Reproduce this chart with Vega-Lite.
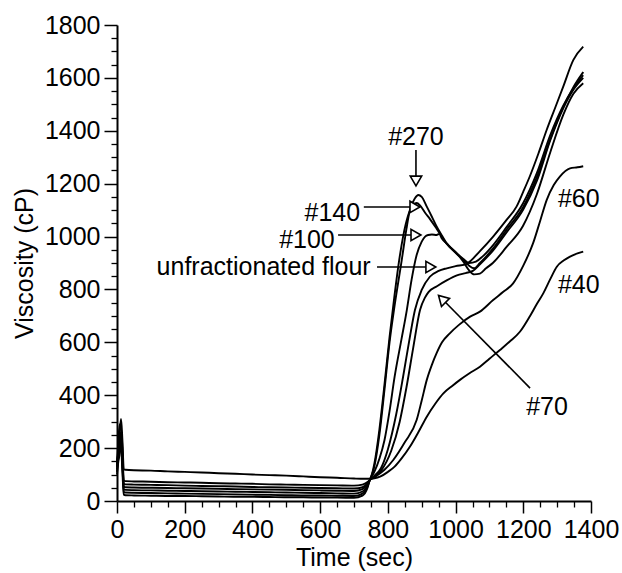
{
  "$schema": "https://vega.github.io/schema/vega-lite/v6.json",
  "width": 474,
  "height": 476,
  "autosize": {"type": "none"},
  "padding": {"left": 117, "top": 25, "right": 31, "bottom": 72},
  "background": "white",
  "config": {"view": {"stroke": null}, "font": "Liberation Sans"},
  "datasets": {
    "curves": [
      {"sample": "#40", "time": 0, "viscosity": 130}, {"sample": "#40", "time": 4, "viscosity": 200}, {"sample": "#40", "time": 8, "viscosity": 260}, {"sample": "#40", "time": 12, "viscosity": 310}, {"sample": "#40", "time": 16, "viscosity": 230}, {"sample": "#40", "time": 20, "viscosity": 120}, {"sample": "#40", "time": 25, "viscosity": 118},
      {"sample": "#40", "time": 50, "viscosity": 116}, {"sample": "#40", "time": 100, "viscosity": 115}, {"sample": "#40", "time": 150, "viscosity": 112}, {"sample": "#40", "time": 200, "viscosity": 110}, {"sample": "#40", "time": 250, "viscosity": 108}, {"sample": "#40", "time": 300, "viscosity": 105}, {"sample": "#40", "time": 350, "viscosity": 103}, {"sample": "#40", "time": 400, "viscosity": 100}, {"sample": "#40", "time": 450, "viscosity": 98}, {"sample": "#40", "time": 500, "viscosity": 96}, {"sample": "#40", "time": 550, "viscosity": 93}, {"sample": "#40", "time": 600, "viscosity": 90}, {"sample": "#40", "time": 650, "viscosity": 88}, {"sample": "#40", "time": 700, "viscosity": 85}, {"sample": "#40", "time": 730, "viscosity": 84}, {"sample": "#40", "time": 747, "viscosity": 84},
      {"sample": "#40", "time": 760, "viscosity": 86}, {"sample": "#40", "time": 777, "viscosity": 92}, {"sample": "#40", "time": 800, "viscosity": 110}, {"sample": "#40", "time": 820, "viscosity": 130}, {"sample": "#40", "time": 840, "viscosity": 160}, {"sample": "#40", "time": 865, "viscosity": 205}, {"sample": "#40", "time": 890, "viscosity": 260}, {"sample": "#40", "time": 915, "viscosity": 319}, {"sample": "#40", "time": 940, "viscosity": 368}, {"sample": "#40", "time": 964, "viscosity": 407}, {"sample": "#40", "time": 990, "viscosity": 435}, {"sample": "#40", "time": 1013, "viscosity": 458}, {"sample": "#40", "time": 1040, "viscosity": 482}, {"sample": "#40", "time": 1072, "viscosity": 508}, {"sample": "#40", "time": 1100, "viscosity": 538}, {"sample": "#40", "time": 1131, "viscosity": 571}, {"sample": "#40", "time": 1160, "viscosity": 603}, {"sample": "#40", "time": 1190, "viscosity": 640}, {"sample": "#40", "time": 1220, "viscosity": 700}, {"sample": "#40", "time": 1240, "viscosity": 745}, {"sample": "#40", "time": 1259, "viscosity": 785}, {"sample": "#40", "time": 1280, "viscosity": 840}, {"sample": "#40", "time": 1299, "viscosity": 886}, {"sample": "#40", "time": 1320, "viscosity": 910}, {"sample": "#40", "time": 1338, "viscosity": 924}, {"sample": "#40", "time": 1360, "viscosity": 936}, {"sample": "#40", "time": 1377, "viscosity": 943},

      {"sample": "#60", "time": 0, "viscosity": 130}, {"sample": "#60", "time": 4, "viscosity": 190}, {"sample": "#60", "time": 8, "viscosity": 240}, {"sample": "#60", "time": 12, "viscosity": 260}, {"sample": "#60", "time": 16, "viscosity": 180}, {"sample": "#60", "time": 20, "viscosity": 55}, {"sample": "#60", "time": 25, "viscosity": 52},
      {"sample": "#60", "time": 50, "viscosity": 51}, {"sample": "#60", "time": 100, "viscosity": 50}, {"sample": "#60", "time": 150, "viscosity": 49}, {"sample": "#60", "time": 200, "viscosity": 48}, {"sample": "#60", "time": 250, "viscosity": 47}, {"sample": "#60", "time": 300, "viscosity": 46}, {"sample": "#60", "time": 350, "viscosity": 45}, {"sample": "#60", "time": 400, "viscosity": 44}, {"sample": "#60", "time": 450, "viscosity": 43}, {"sample": "#60", "time": 500, "viscosity": 42}, {"sample": "#60", "time": 550, "viscosity": 41}, {"sample": "#60", "time": 600, "viscosity": 40}, {"sample": "#60", "time": 650, "viscosity": 39}, {"sample": "#60", "time": 700, "viscosity": 38}, {"sample": "#60", "time": 725, "viscosity": 45}, {"sample": "#60", "time": 740, "viscosity": 65}, {"sample": "#60", "time": 747, "viscosity": 80},
      {"sample": "#60", "time": 760, "viscosity": 90}, {"sample": "#60", "time": 790, "viscosity": 118}, {"sample": "#60", "time": 816, "viscosity": 155}, {"sample": "#60", "time": 850, "viscosity": 222}, {"sample": "#60", "time": 885, "viscosity": 306}, {"sample": "#60", "time": 900, "viscosity": 380}, {"sample": "#60", "time": 915, "viscosity": 458}, {"sample": "#60", "time": 930, "viscosity": 515}, {"sample": "#60", "time": 944, "viscosity": 559}, {"sample": "#60", "time": 960, "viscosity": 600}, {"sample": "#60", "time": 983, "viscosity": 634}, {"sample": "#60", "time": 1010, "viscosity": 666}, {"sample": "#60", "time": 1043, "viscosity": 697}, {"sample": "#60", "time": 1072, "viscosity": 716}, {"sample": "#60", "time": 1111, "viscosity": 760}, {"sample": "#60", "time": 1140, "viscosity": 790}, {"sample": "#60", "time": 1170, "viscosity": 823}, {"sample": "#60", "time": 1200, "viscosity": 890}, {"sample": "#60", "time": 1229, "viscosity": 975}, {"sample": "#60", "time": 1250, "viscosity": 1060}, {"sample": "#60", "time": 1269, "viscosity": 1138}, {"sample": "#60", "time": 1290, "viscosity": 1195}, {"sample": "#60", "time": 1308, "viscosity": 1227}, {"sample": "#60", "time": 1338, "viscosity": 1258}, {"sample": "#60", "time": 1360, "viscosity": 1262}, {"sample": "#60", "time": 1377, "viscosity": 1266},

      {"sample": "#70", "time": 0, "viscosity": 110}, {"sample": "#70", "time": 4, "viscosity": 160}, {"sample": "#70", "time": 8, "viscosity": 190}, {"sample": "#70", "time": 12, "viscosity": 200}, {"sample": "#70", "time": 16, "viscosity": 110}, {"sample": "#70", "time": 20, "viscosity": 24}, {"sample": "#70", "time": 25, "viscosity": 22},
      {"sample": "#70", "time": 50, "viscosity": 21}, {"sample": "#70", "time": 100, "viscosity": 20}, {"sample": "#70", "time": 150, "viscosity": 19}, {"sample": "#70", "time": 200, "viscosity": 19}, {"sample": "#70", "time": 250, "viscosity": 18}, {"sample": "#70", "time": 300, "viscosity": 17}, {"sample": "#70", "time": 350, "viscosity": 16}, {"sample": "#70", "time": 400, "viscosity": 16}, {"sample": "#70", "time": 450, "viscosity": 15}, {"sample": "#70", "time": 500, "viscosity": 14}, {"sample": "#70", "time": 550, "viscosity": 14}, {"sample": "#70", "time": 600, "viscosity": 13}, {"sample": "#70", "time": 650, "viscosity": 13}, {"sample": "#70", "time": 700, "viscosity": 12}, {"sample": "#70", "time": 725, "viscosity": 20}, {"sample": "#70", "time": 740, "viscosity": 50}, {"sample": "#70", "time": 747, "viscosity": 80},
      {"sample": "#70", "time": 760, "viscosity": 90}, {"sample": "#70", "time": 780, "viscosity": 115}, {"sample": "#70", "time": 810, "viscosity": 190}, {"sample": "#70", "time": 835, "viscosity": 300}, {"sample": "#70", "time": 855, "viscosity": 430}, {"sample": "#70", "time": 875, "viscosity": 580}, {"sample": "#70", "time": 895, "viscosity": 722}, {"sample": "#70", "time": 910, "viscosity": 770}, {"sample": "#70", "time": 920, "viscosity": 790}, {"sample": "#70", "time": 945, "viscosity": 812}, {"sample": "#70", "time": 975, "viscosity": 835}, {"sample": "#70", "time": 1004, "viscosity": 853}, {"sample": "#70", "time": 1030, "viscosity": 862}, {"sample": "#70", "time": 1051, "viscosity": 870}, {"sample": "#70", "time": 1072, "viscosity": 895}, {"sample": "#70", "time": 1111, "viscosity": 948}, {"sample": "#70", "time": 1150, "viscosity": 1015}, {"sample": "#70", "time": 1199, "viscosity": 1100}, {"sample": "#70", "time": 1240, "viscosity": 1210}, {"sample": "#70", "time": 1280, "viscosity": 1365}, {"sample": "#70", "time": 1318, "viscosity": 1485}, {"sample": "#70", "time": 1348, "viscosity": 1555}, {"sample": "#70", "time": 1377, "viscosity": 1600},

      {"sample": "#100", "time": 0, "viscosity": 120}, {"sample": "#100", "time": 4, "viscosity": 170}, {"sample": "#100", "time": 8, "viscosity": 200}, {"sample": "#100", "time": 12, "viscosity": 220}, {"sample": "#100", "time": 16, "viscosity": 130}, {"sample": "#100", "time": 20, "viscosity": 45}, {"sample": "#100", "time": 25, "viscosity": 42},
      {"sample": "#100", "time": 50, "viscosity": 41}, {"sample": "#100", "time": 100, "viscosity": 40}, {"sample": "#100", "time": 150, "viscosity": 39}, {"sample": "#100", "time": 200, "viscosity": 38}, {"sample": "#100", "time": 250, "viscosity": 37}, {"sample": "#100", "time": 300, "viscosity": 36}, {"sample": "#100", "time": 350, "viscosity": 35}, {"sample": "#100", "time": 400, "viscosity": 34}, {"sample": "#100", "time": 450, "viscosity": 33}, {"sample": "#100", "time": 500, "viscosity": 32}, {"sample": "#100", "time": 550, "viscosity": 31}, {"sample": "#100", "time": 600, "viscosity": 30}, {"sample": "#100", "time": 650, "viscosity": 29}, {"sample": "#100", "time": 700, "viscosity": 28}, {"sample": "#100", "time": 725, "viscosity": 36}, {"sample": "#100", "time": 740, "viscosity": 60}, {"sample": "#100", "time": 747, "viscosity": 80},
      {"sample": "#100", "time": 760, "viscosity": 110}, {"sample": "#100", "time": 775, "viscosity": 160}, {"sample": "#100", "time": 790, "viscosity": 230}, {"sample": "#100", "time": 805, "viscosity": 340}, {"sample": "#100", "time": 820, "viscosity": 470}, {"sample": "#100", "time": 840, "viscosity": 610}, {"sample": "#100", "time": 856, "viscosity": 722}, {"sample": "#100", "time": 870, "viscosity": 836}, {"sample": "#100", "time": 885, "viscosity": 930}, {"sample": "#100", "time": 900, "viscosity": 981}, {"sample": "#100", "time": 910, "viscosity": 1000}, {"sample": "#100", "time": 919, "viscosity": 1006}, {"sample": "#100", "time": 930, "viscosity": 1008}, {"sample": "#100", "time": 944, "viscosity": 1006}, {"sample": "#100", "time": 952, "viscosity": 1010}, {"sample": "#100", "time": 959, "viscosity": 994}, {"sample": "#100", "time": 974, "viscosity": 974}, {"sample": "#100", "time": 1003, "viscosity": 937}, {"sample": "#100", "time": 1023, "viscosity": 915}, {"sample": "#100", "time": 1040, "viscosity": 900}, {"sample": "#100", "time": 1060, "viscosity": 905}, {"sample": "#100", "time": 1080, "viscosity": 925}, {"sample": "#100", "time": 1111, "viscosity": 968}, {"sample": "#100", "time": 1150, "viscosity": 1035}, {"sample": "#100", "time": 1199, "viscosity": 1125}, {"sample": "#100", "time": 1240, "viscosity": 1240}, {"sample": "#100", "time": 1280, "viscosity": 1385}, {"sample": "#100", "time": 1318, "viscosity": 1495}, {"sample": "#100", "time": 1348, "viscosity": 1560}, {"sample": "#100", "time": 1377, "viscosity": 1610},

      {"sample": "#140", "time": 0, "viscosity": 140}, {"sample": "#140", "time": 4, "viscosity": 230}, {"sample": "#140", "time": 8, "viscosity": 290}, {"sample": "#140", "time": 12, "viscosity": 270}, {"sample": "#140", "time": 16, "viscosity": 200}, {"sample": "#140", "time": 20, "viscosity": 78}, {"sample": "#140", "time": 25, "viscosity": 75},
      {"sample": "#140", "time": 50, "viscosity": 74}, {"sample": "#140", "time": 100, "viscosity": 73}, {"sample": "#140", "time": 150, "viscosity": 71}, {"sample": "#140", "time": 200, "viscosity": 70}, {"sample": "#140", "time": 250, "viscosity": 69}, {"sample": "#140", "time": 300, "viscosity": 67}, {"sample": "#140", "time": 350, "viscosity": 66}, {"sample": "#140", "time": 400, "viscosity": 65}, {"sample": "#140", "time": 450, "viscosity": 63}, {"sample": "#140", "time": 500, "viscosity": 62}, {"sample": "#140", "time": 550, "viscosity": 61}, {"sample": "#140", "time": 600, "viscosity": 60}, {"sample": "#140", "time": 650, "viscosity": 59}, {"sample": "#140", "time": 700, "viscosity": 58}, {"sample": "#140", "time": 725, "viscosity": 62}, {"sample": "#140", "time": 740, "viscosity": 72}, {"sample": "#140", "time": 747, "viscosity": 80},
      {"sample": "#140", "time": 760, "viscosity": 140}, {"sample": "#140", "time": 775, "viscosity": 270}, {"sample": "#140", "time": 790, "viscosity": 440}, {"sample": "#140", "time": 805, "viscosity": 620}, {"sample": "#140", "time": 818, "viscosity": 760}, {"sample": "#140", "time": 830, "viscosity": 880}, {"sample": "#140", "time": 845, "viscosity": 1000}, {"sample": "#140", "time": 860, "viscosity": 1080}, {"sample": "#140", "time": 875, "viscosity": 1120}, {"sample": "#140", "time": 885, "viscosity": 1127}, {"sample": "#140", "time": 895, "viscosity": 1118}, {"sample": "#140", "time": 910, "viscosity": 1090}, {"sample": "#140", "time": 925, "viscosity": 1065}, {"sample": "#140", "time": 944, "viscosity": 1030}, {"sample": "#140", "time": 974, "viscosity": 972}, {"sample": "#140", "time": 1003, "viscosity": 935}, {"sample": "#140", "time": 1023, "viscosity": 912}, {"sample": "#140", "time": 1040, "viscosity": 890}, {"sample": "#140", "time": 1055, "viscosity": 880}, {"sample": "#140", "time": 1072, "viscosity": 900}, {"sample": "#140", "time": 1111, "viscosity": 955}, {"sample": "#140", "time": 1150, "viscosity": 1025}, {"sample": "#140", "time": 1199, "viscosity": 1110}, {"sample": "#140", "time": 1240, "viscosity": 1225}, {"sample": "#140", "time": 1280, "viscosity": 1370}, {"sample": "#140", "time": 1318, "viscosity": 1490}, {"sample": "#140", "time": 1348, "viscosity": 1565}, {"sample": "#140", "time": 1377, "viscosity": 1622},

      {"sample": "#270", "time": 0, "viscosity": 150}, {"sample": "#270", "time": 4, "viscosity": 180}, {"sample": "#270", "time": 8, "viscosity": 230}, {"sample": "#270", "time": 12, "viscosity": 250}, {"sample": "#270", "time": 16, "viscosity": 160}, {"sample": "#270", "time": 20, "viscosity": 34}, {"sample": "#270", "time": 25, "viscosity": 32},
      {"sample": "#270", "time": 50, "viscosity": 31}, {"sample": "#270", "time": 100, "viscosity": 30}, {"sample": "#270", "time": 150, "viscosity": 29}, {"sample": "#270", "time": 200, "viscosity": 28}, {"sample": "#270", "time": 250, "viscosity": 27}, {"sample": "#270", "time": 300, "viscosity": 26}, {"sample": "#270", "time": 350, "viscosity": 25}, {"sample": "#270", "time": 400, "viscosity": 24}, {"sample": "#270", "time": 450, "viscosity": 23}, {"sample": "#270", "time": 500, "viscosity": 22}, {"sample": "#270", "time": 550, "viscosity": 21}, {"sample": "#270", "time": 600, "viscosity": 21}, {"sample": "#270", "time": 650, "viscosity": 20}, {"sample": "#270", "time": 700, "viscosity": 19}, {"sample": "#270", "time": 725, "viscosity": 28}, {"sample": "#270", "time": 740, "viscosity": 55}, {"sample": "#270", "time": 747, "viscosity": 80},
      {"sample": "#270", "time": 760, "viscosity": 130}, {"sample": "#270", "time": 775, "viscosity": 250}, {"sample": "#270", "time": 790, "viscosity": 420}, {"sample": "#270", "time": 805, "viscosity": 600}, {"sample": "#270", "time": 818, "viscosity": 722}, {"sample": "#270", "time": 841, "viscosity": 911}, {"sample": "#270", "time": 855, "viscosity": 1030}, {"sample": "#270", "time": 865, "viscosity": 1100}, {"sample": "#270", "time": 880, "viscosity": 1145}, {"sample": "#270", "time": 890, "viscosity": 1157}, {"sample": "#270", "time": 900, "viscosity": 1150}, {"sample": "#270", "time": 915, "viscosity": 1113}, {"sample": "#270", "time": 930, "viscosity": 1075}, {"sample": "#270", "time": 944, "viscosity": 1038}, {"sample": "#270", "time": 960, "viscosity": 1003}, {"sample": "#270", "time": 974, "viscosity": 974}, {"sample": "#270", "time": 1003, "viscosity": 937}, {"sample": "#270", "time": 1023, "viscosity": 905}, {"sample": "#270", "time": 1040, "viscosity": 872}, {"sample": "#270", "time": 1055, "viscosity": 857}, {"sample": "#270", "time": 1072, "viscosity": 860}, {"sample": "#270", "time": 1090, "viscosity": 880}, {"sample": "#270", "time": 1110, "viscosity": 900}, {"sample": "#270", "time": 1150, "viscosity": 960}, {"sample": "#270", "time": 1199, "viscosity": 1040}, {"sample": "#270", "time": 1240, "viscosity": 1160}, {"sample": "#270", "time": 1280, "viscosity": 1320}, {"sample": "#270", "time": 1318, "viscosity": 1460}, {"sample": "#270", "time": 1348, "viscosity": 1540}, {"sample": "#270", "time": 1377, "viscosity": 1580},

      {"sample": "unfractionated flour", "time": 0, "viscosity": 100}, {"sample": "unfractionated flour", "time": 4, "viscosity": 150}, {"sample": "unfractionated flour", "time": 8, "viscosity": 180}, {"sample": "unfractionated flour", "time": 12, "viscosity": 240}, {"sample": "unfractionated flour", "time": 16, "viscosity": 150}, {"sample": "unfractionated flour", "time": 20, "viscosity": 65}, {"sample": "unfractionated flour", "time": 25, "viscosity": 63},
      {"sample": "unfractionated flour", "time": 50, "viscosity": 62}, {"sample": "unfractionated flour", "time": 100, "viscosity": 61}, {"sample": "unfractionated flour", "time": 150, "viscosity": 60}, {"sample": "unfractionated flour", "time": 200, "viscosity": 58}, {"sample": "unfractionated flour", "time": 250, "viscosity": 57}, {"sample": "unfractionated flour", "time": 300, "viscosity": 56}, {"sample": "unfractionated flour", "time": 350, "viscosity": 55}, {"sample": "unfractionated flour", "time": 400, "viscosity": 53}, {"sample": "unfractionated flour", "time": 450, "viscosity": 52}, {"sample": "unfractionated flour", "time": 500, "viscosity": 51}, {"sample": "unfractionated flour", "time": 550, "viscosity": 50}, {"sample": "unfractionated flour", "time": 600, "viscosity": 49}, {"sample": "unfractionated flour", "time": 650, "viscosity": 48}, {"sample": "unfractionated flour", "time": 700, "viscosity": 47}, {"sample": "unfractionated flour", "time": 725, "viscosity": 52}, {"sample": "unfractionated flour", "time": 740, "viscosity": 68}, {"sample": "unfractionated flour", "time": 747, "viscosity": 80},
      {"sample": "unfractionated flour", "time": 760, "viscosity": 95}, {"sample": "unfractionated flour", "time": 780, "viscosity": 125}, {"sample": "unfractionated flour", "time": 800, "viscosity": 195}, {"sample": "unfractionated flour", "time": 825, "viscosity": 330}, {"sample": "unfractionated flour", "time": 845, "viscosity": 470}, {"sample": "unfractionated flour", "time": 865, "viscosity": 620}, {"sample": "unfractionated flour", "time": 880, "viscosity": 722}, {"sample": "unfractionated flour", "time": 900, "viscosity": 798}, {"sample": "unfractionated flour", "time": 924, "viscosity": 848}, {"sample": "unfractionated flour", "time": 950, "viscosity": 870}, {"sample": "unfractionated flour", "time": 974, "viscosity": 880}, {"sample": "unfractionated flour", "time": 1000, "viscosity": 888}, {"sample": "unfractionated flour", "time": 1033, "viscosity": 897}, {"sample": "unfractionated flour", "time": 1072, "viscosity": 945}, {"sample": "unfractionated flour", "time": 1111, "viscosity": 1000}, {"sample": "unfractionated flour", "time": 1150, "viscosity": 1062}, {"sample": "unfractionated flour", "time": 1180, "viscosity": 1113}, {"sample": "unfractionated flour", "time": 1200, "viscosity": 1170}, {"sample": "unfractionated flour", "time": 1220, "viscosity": 1230}, {"sample": "unfractionated flour", "time": 1245, "viscosity": 1315}, {"sample": "unfractionated flour", "time": 1269, "viscosity": 1403}, {"sample": "unfractionated flour", "time": 1295, "viscosity": 1490}, {"sample": "unfractionated flour", "time": 1318, "viscosity": 1567}, {"sample": "unfractionated flour", "time": 1348, "viscosity": 1668}, {"sample": "unfractionated flour", "time": 1377, "viscosity": 1718}
    ],
    "arrows": [
      {"label": "#270", "time": 883, "viscosity": 1327, "time2": 883, "viscosity2": 1215},
      {"label": "#140", "time": 729, "viscosity": 1112, "time2": 878, "viscosity2": 1112},
      {"label": "#100", "time": 653, "viscosity": 1006, "time2": 881, "viscosity2": 1006},
      {"label": "unfractionated flour", "time": 768, "viscosity": 885, "time2": 925, "viscosity2": 885},
      {"label": "#70", "time": 1220, "viscosity": 427, "time2": 962, "viscosity2": 762}
    ],
    "heads": [
      {"label": "#270", "dir": "down", "time": 883, "viscosity": 1210},
      {"label": "#140", "dir": "right", "time": 880, "viscosity": 1112},
      {"label": "#100", "dir": "right", "time": 883, "viscosity": 1006},
      {"label": "unfractionated flour", "dir": "right", "time": 927, "viscosity": 885},
      {"label": "#70", "dir": "upleft", "time": 960, "viscosity": 764}
    ],
    "notes": [
      {"label": "#270", "time": 883, "viscosity": 1346},
      {"label": "#140", "time": 636, "viscosity": 1059},
      {"label": "#100", "time": 561, "viscosity": 957},
      {"label": "unfractionated flour", "time": 433, "viscosity": 853},
      {"label": "#70", "time": 1270, "viscosity": 325},
      {"label": "#60", "time": 1364, "viscosity": 1112},
      {"label": "#40", "time": 1364, "viscosity": 787}
    ]
  },
  "layer": [
    {
      "data": {"name": "curves"},
      "mark": {"type": "line", "color": "black", "strokeWidth": 1.9, "interpolate": "monotone"},
      "encoding": {
        "x": {
          "field": "time", "type": "quantitative",
          "scale": {"domain": [0, 1400], "nice": false, "zero": false},
          "axis": {
            "orient": "bottom", "values": [0, 200, 400, 600, 800, 1000, 1200, 1400], "format": "d",
            "grid": false, "domainColor": "black", "domainWidth": 2,
            "tickColor": "black", "tickWidth": 1.5, "tickSize": 12,
            "labelFont": "Liberation Sans", "labelFontSize": 25, "labelColor": "black",
            "labelPadding": 4, "labelFlush": false, "labelOverlap": false,
            "title": "Time (sec)", "titleFont": "Liberation Sans", "titleFontSize": 25,
            "titleFontWeight": "normal", "titleColor": "black",
            "titleBaseline": "alphabetic", "titleX": 237, "titleY": 64, "titleAlign": "center"
          }
        },
        "y": {
          "field": "viscosity", "type": "quantitative",
          "scale": {"domain": [0, 1800], "nice": false},
          "axis": {
            "orient": "left", "values": [0, 200, 400, 600, 800, 1000, 1200, 1400, 1600, 1800], "format": "d",
            "grid": false, "domainColor": "black", "domainWidth": 2,
            "tickColor": "black", "tickWidth": 1.5, "tickSize": 13,
            "labelFont": "Liberation Sans", "labelFontSize": 25, "labelColor": "black",
            "labelPadding": 4, "labelFlush": false, "labelOverlap": false,
            "title": "Viscosity (cP)", "titleFont": "Liberation Sans", "titleFontSize": 25,
            "titleFontWeight": "normal", "titleColor": "black", "titleAngle": -90,
            "titleBaseline": "alphabetic", "titleX": -85, "titleY": 238, "titleAlign": "center"
          }
        },
        "detail": {"field": "sample", "type": "nominal"}
      }
    },
    {
      "data": {"name": "arrows"},
      "mark": {"type": "rule", "color": "black", "strokeWidth": 1.6},
      "encoding": {
        "x": {"field": "time", "type": "quantitative", "axis": null},
        "y": {"field": "viscosity", "type": "quantitative", "axis": null},
        "x2": {"field": "time2"},
        "y2": {"field": "viscosity2"}
      }
    },
    {
      "data": {"name": "heads"},
      "transform": [{"filter": "datum.dir === 'right'"}],
      "mark": {"type": "point", "shape": "triangle-right", "filled": true, "fill": "white", "stroke": "black", "strokeWidth": 1.6, "opacity": 1, "size": 130},
      "encoding": {
        "x": {"field": "time", "type": "quantitative", "axis": null},
        "y": {"field": "viscosity", "type": "quantitative", "axis": null}
      }
    },
    {
      "data": {"name": "heads"},
      "transform": [{"filter": "datum.dir === 'down'"}],
      "mark": {"type": "point", "shape": "triangle-down", "filled": true, "fill": "white", "stroke": "black", "strokeWidth": 1.6, "opacity": 1, "size": 130},
      "encoding": {
        "x": {"field": "time", "type": "quantitative", "axis": null},
        "y": {"field": "viscosity", "type": "quantitative", "axis": null}
      }
    },
    {
      "data": {"name": "heads"},
      "transform": [{"filter": "datum.dir === 'upleft'"}],
      "mark": {"type": "point", "shape": "triangle-up", "angle": -45, "filled": true, "fill": "white", "stroke": "black", "strokeWidth": 1.6, "opacity": 1, "size": 130},
      "encoding": {
        "x": {"field": "time", "type": "quantitative", "axis": null},
        "y": {"field": "viscosity", "type": "quantitative", "axis": null}
      }
    },
    {
      "data": {"name": "notes"},
      "mark": {"type": "text", "font": "Liberation Sans", "fontSize": 25, "color": "black", "align": "center", "baseline": "alphabetic"},
      "encoding": {
        "x": {
          "field": "time", "type": "quantitative",
          "axis": {
            "orient": "bottom",
            "values": [50, 100, 150, 250, 300, 350, 450, 500, 550, 650, 700, 750, 850, 900, 950, 1050, 1100, 1150, 1250, 1300, 1350],
            "labels": false, "domain": false, "grid": false, "title": null,
            "tickColor": "black", "tickWidth": 1.3, "tickSize": 6
          }
        },
        "y": {
          "field": "viscosity", "type": "quantitative",
          "axis": {
            "orient": "left",
            "values": [50, 100, 150, 250, 300, 350, 450, 500, 550, 650, 700, 750, 850, 900, 950, 1050, 1100, 1150, 1250, 1300, 1350, 1450, 1500, 1550, 1650, 1700, 1750],
            "labels": false, "domain": false, "grid": false, "title": null,
            "tickColor": "black", "tickWidth": 1.3, "tickSize": 6
          }
        },
        "text": {"field": "label", "type": "nominal"}
      }
    }
  ],
  "resolve": {"axis": {"x": "independent", "y": "independent"}}
}
